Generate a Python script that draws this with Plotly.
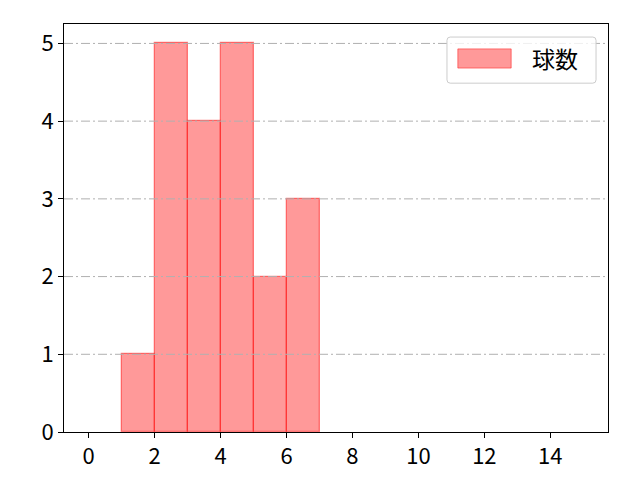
import plotly.graph_objects as go

bin_edges = [1, 2, 3, 4, 5, 6, 7]
counts = [1, 5, 4, 5, 2, 3]
series_name = "球数"
x_ticks = [0, 2, 4, 6, 8, 10, 12, 14]
y_ticks = [0, 1, 2, 3, 4, 5]

centers = [(a + b) / 2 for a, b in zip(bin_edges[:-1], bin_edges[1:])]
widths = [b - a for a, b in zip(bin_edges[:-1], bin_edges[1:])]

FONT = "Noto Sans CJK JP, DejaVu Sans, sans-serif"
Y_RANGE = [0, 5.25]

fig = go.Figure()
fig.add_trace(go.Bar(
    x=centers, y=counts, width=widths, name=series_name,
    marker=dict(color="rgba(255,0,0,0.4)", line=dict(color="rgba(255,30,30,0.55)", width=1.3)),
    showlegend=False,
))

# grid lines drawn above the bars (as in the reference)
for t in y_ticks:
    if Y_RANGE[0] < t < Y_RANGE[1]:
        fig.add_shape(type="line", xref="paper", yref="y", x0=0, x1=1, y0=t, y1=t,
                      line=dict(color="#b0b0b0", width=1, dash="9px,3px,2px,3px"), layer="above")

def rounded_rect(x0, y0, x1, y1, rx, ry):
    return (f"M {x0+rx},{y0} L {x1-rx},{y0} Q {x1},{y0} {x1},{y0+ry} "
            f"L {x1},{y1-ry} Q {x1},{y1} {x1-rx},{y1} L {x0+rx},{y1} "
            f"Q {x0},{y1} {x0},{y1-ry} L {x0},{y0+ry} Q {x0},{y0} {x0+rx},{y0} Z")

fig.add_shape(type="path", xref="paper", yref="paper",
              path=rounded_rect(0.704, 0.855, 0.978, 0.968, 0.006, 0.008),
              line=dict(color="#cccccc", width=1), fillcolor="rgba(255,255,255,0.8)", layer="above")
fig.add_shape(type="rect", xref="paper", yref="paper",
              x0=0.724, x1=0.822, y0=0.892, y1=0.939,
              line=dict(color="rgba(255,30,30,0.55)", width=1), fillcolor="rgba(255,0,0,0.4)", layer="above")
fig.add_annotation(x=0.856, y=0.9155, xref="paper", yref="paper", text=series_name,
                   showarrow=False, xanchor="left", yanchor="middle",
                   font=dict(family=FONT, size=23, color="black"))

fig.update_layout(
    width=640, height=480,
    margin=dict(l=56, r=40, t=16, b=56),
    plot_bgcolor="white", paper_bgcolor="white",
    font=dict(family=FONT, size=22, color="black"),
    bargap=0,
)
fig.update_xaxes(range=[-0.75, 15.75], tickvals=x_ticks, ticks="outside", ticklen=5, tickwidth=1,
                 tickcolor="black", showline=True, linecolor="black", linewidth=1, mirror=True,
                 showgrid=False, zeroline=False, tickfont=dict(size=22))
fig.update_yaxes(range=Y_RANGE, tickvals=y_ticks, ticks="outside", ticklen=5, tickwidth=1,
                 tickcolor="black", showline=True, linecolor="black", linewidth=1, mirror=True,
                 showgrid=False, zeroline=False, tickfont=dict(size=22))

fig.write_html("out.html")
